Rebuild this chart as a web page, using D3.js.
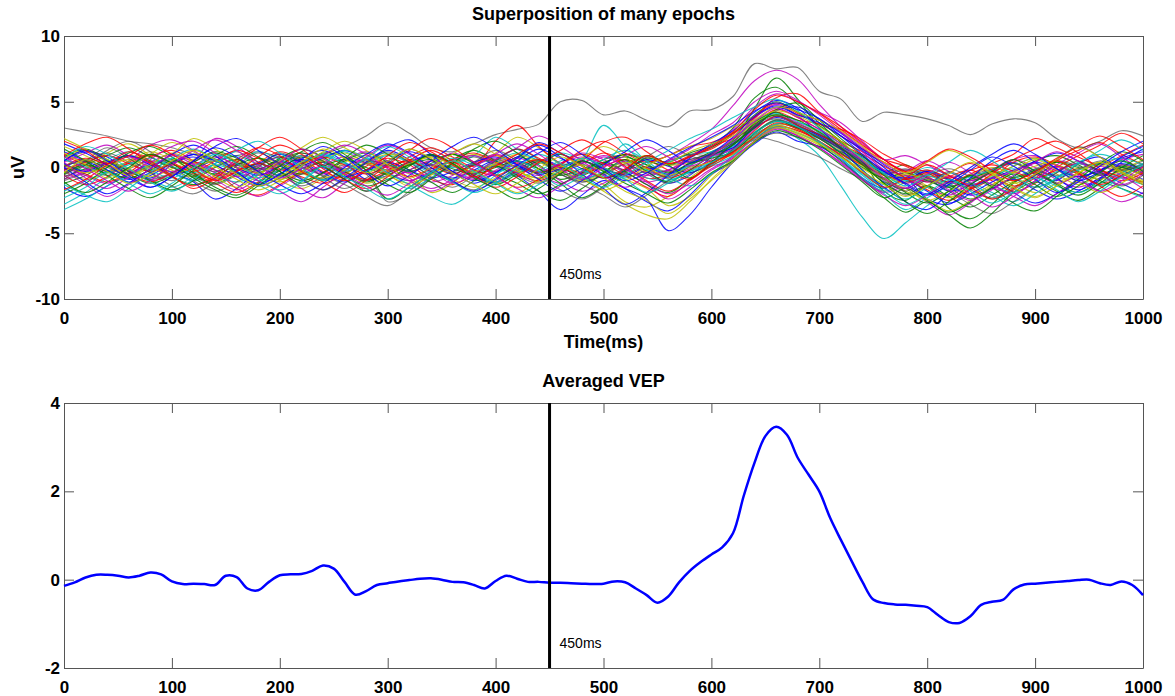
<!DOCTYPE html>
<html lang="en">
<head>
    <meta charset="UTF-8">
    <title>Superposition of many epochs / Averaged VEP</title>
    <script src="https://d3js.org/d3.v7.min.js"></script>
    <style>
        body {
            margin: 0;
            background-color: #ffffff;
            font-family: "Liberation Sans", Arial, Helvetica, sans-serif;
        }
        .tick text { font-weight: bold; font-size: 17px; fill: #000; }
        .title { font-weight: bold; font-size: 18px; }
    </style>
</head>
<body>
<div id="chart"></div>
<script>
    // time axis of the epochs (ms), one sample every 20 ms
    const epochTime = d3.range(0, 1001, 20);

    // single epochs (uV)
    const ep01 = [0.5,1.2,0.8,-0.3,-0.8,0.2,1.0,0.6,-0.4,-1.2,-0.5,0.7,1.3,0.4,-0.9,-0.6,0.3,0.9,0.2,-0.7,-1.1,-0.2,0.6,0.1,-0.8,-0.4,0.5,-0.3,-1.2,-0.6,0.8,1.9,3.8,4.6,3.9,2.6,1.5,0.2,-1.1,-1.6,-0.9,-1.8,-1.3,-0.2,0.4,-0.5,-1.0,0.3,0.8,-0.2,-0.9];
    const ep02 = [-1.2,-0.6,0.3,0.9,0.4,-0.7,-1.3,-0.8,0.2,-0.4,0.6,1.1,0.5,-0.6,-1.4,-0.9,-0.2,0.5,1.0,0.4,-0.3,0.8,0.2,-0.9,-0.3,0.6,0.9,-0.1,-0.7,0.4,1.2,2.1,4.5,6.8,5.2,3.0,1.6,0.9,-0.3,0.2,-0.8,-1.5,-2.4,-1.6,-0.7,0.5,0.9,0.2,-0.6,0.1,-0.4];
    const ep03 = [0.2,-0.5,-1.1,-0.4,0.8,1.3,0.5,-0.6,-0.2,0.4,1.2,0.6,-0.3,-0.8,0.1,0.7,0.2,-0.9,-1.3,-0.5,0.6,1.4,0.7,-0.2,0.3,1.1,0.4,-0.8,-0.5,0.9,1.6,2.2,3.1,4.2,3.6,3.3,2.4,1.4,0.6,0.1,-0.7,-0.4,0.3,-0.6,-1.4,-0.8,0.5,1.3,1.9,1.0,0.2];
    const ep04 = [-2.8,-1.9,-0.8,-0.2,-0.9,-1.5,-0.7,0.3,0.9,0.2,-0.6,-0.1,0.8,1.2,0.3,-0.5,-1.0,-0.4,0.5,0.9,0.1,-0.7,-0.2,0.5,1.0,0.2,1.8,0.4,-0.9,-0.4,0.1,0.6,2.0,3.0,2.2,0.9,-1.4,-3.8,-5.4,-4.2,-2.9,-1.8,-1.2,-1.9,-2.6,-1.5,-0.4,0.3,-0.2,-0.8,-1.3];
    const ep05 = [1.0,0.4,-0.3,0.5,1.7,2.1,1.3,0.2,-0.5,0.1,0.8,0.3,-0.4,0.6,1.2,0.5,-0.8,-1.6,-0.9,0.2,0.7,0.0,-0.6,0.3,1.1,0.6,-0.2,0.4,0.9,1.8,2.9,4.7,6.6,7.4,6.7,4.8,3.1,1.8,0.6,-0.2,0.5,-0.3,-1.0,-0.4,0.6,0.9,0.1,-0.7,-0.2,0.6,1.0];
    const ep06 = [-0.4,0.3,1.1,1.8,0.9,-0.2,-0.7,0.1,0.6,-0.3,-1.0,-1.6,-0.8,0.4,0.9,0.2,-0.5,-1.9,-1.2,0.3,1.1,2.3,1.5,0.2,-0.6,-1.3,-2.6,-3.0,-2.2,-0.8,0.3,1.2,2.4,3.1,2.5,1.7,0.8,-0.3,-1.2,-0.6,-1.4,-2.2,-1.7,-0.9,-1.6,-2.3,-1.4,-0.5,0.4,-0.3,-1.1];
    const ep07 = [3.0,2.7,2.4,2.0,1.8,1.5,1.0,0.6,0.9,1.2,0.8,0.5,1.0,1.6,2.4,3.4,2.6,1.5,1.2,1.8,2.5,2.9,3.3,5.0,5.1,4.0,4.3,3.6,3.1,4.3,4.4,5.4,7.9,7.5,7.6,5.8,5.2,3.5,4.2,4.0,3.7,3.2,2.5,3.3,3.7,3.4,2.2,1.5,2.0,2.8,2.4];
    const ep08 = [-1.5,-2.2,-1.4,-0.5,0.2,-0.4,-1.1,-2.4,-1.6,-0.3,0.5,-0.2,-0.9,-0.4,0.4,1.3,0.6,-0.3,-0.8,-0.2,0.5,-0.6,-1.8,-3.2,-2.1,-1.0,-1.6,-2.4,-4.8,-3.6,-1.5,0.4,1.8,2.7,2.0,1.6,0.6,-0.8,-1.6,-0.9,-2.4,-2.8,-1.7,-0.8,-1.9,-2.7,-2.0,-0.9,-0.2,0.7,1.2];
    const ep09 = [0.8,1.4,0.6,-0.5,-1.2,-0.6,0.4,1.2,0.7,-0.3,-0.7,0.2,1.1,0.8,-0.2,-2.4,-1.5,-0.4,0.6,1.3,0.5,-0.4,0.3,1.0,0.2,-0.8,-0.3,0.7,0.4,1.1,1.7,3.0,5.3,6.1,4.8,3.4,1.9,0.5,-1.8,-2.5,-1.4,-3.1,-3.9,-2.8,-1.2,-0.4,-1.2,-1.9,-1.0,0.2,-0.5];
    const ep10 = [-0.6,-1.3,-0.7,0.4,1.0,0.3,-0.5,-1.2,-1.9,-1.1,0.2,0.9,0.4,-0.5,-1.0,-0.3,0.8,1.5,0.8,0.1,2.0,3.2,1.6,0.3,-0.4,0.3,1.0,0.6,-0.2,-0.9,0.3,1.3,3.2,4.4,3.8,2.9,2.0,1.2,0.4,-0.3,-1.1,-0.7,-0.2,-1.0,-1.8,-1.2,0.0,0.9,1.7,2.6,1.8];
    const ep11 = [0.3,-0.2,0.6,1.2,0.5,-0.4,-1.0,-0.4,0.4,1.2,0.6,-0.3,-0.9,-0.2,0.6,1.1,0.4,-0.5,0.2,0.9,2.3,1.4,0.5,-0.2,0.6,3.2,1.6,0.2,-0.6,0.2,0.8,1.4,3.4,4.0,3.2,2.4,1.3,-0.2,-1.5,-0.8,-0.2,-0.9,-1.5,-0.8,0.1,0.7,-0.1,-0.9,-1.4,-0.7,0.1];
    const ep12 = [-0.9,-0.3,0.4,-0.2,-1.0,-0.5,0.5,2.2,1.6,0.4,-0.3,-1.6,-2.3,-1.2,-0.2,0.5,-0.4,-1.1,-0.6,0.3,1.0,0.4,-0.5,-1.2,-0.5,0.3,-0.4,-1.1,-0.7,-0.1,0.6,1.8,3.7,4.8,4.0,3.6,2.7,1.5,0.3,-0.6,-1.5,-2.1,-1.2,-0.2,0.6,0.0,-0.9,-1.5,-0.8,0.2,-0.4];
    const ep13 = [1.6,0.9,0.1,-0.6,0.0,1.0,2.2,1.4,0.3,-0.5,-1.1,-0.4,0.6,1.1,0.3,-0.6,-1.2,-0.5,0.3,1.0,0.4,-0.3,-0.8,-0.1,0.7,0.0,-0.9,-1.6,-2.9,-2.2,-0.6,0.7,2.6,3.6,2.9,2.2,1.1,0.2,-0.6,-1.2,-0.5,-1.2,-2.0,-1.3,-0.4,0.3,-0.5,-1.3,-0.6,-0.2,-1.0];
    const ep14 = [-0.2,0.5,1.1,0.4,-0.4,-1.0,-0.3,0.7,1.2,0.4,-0.5,-1.4,-0.7,0.2,-0.5,-2.6,-2.0,-0.8,0.1,-0.6,-1.2,-0.3,0.4,-0.5,-1.1,-0.6,0.3,0.8,0.2,0.6,1.1,1.8,2.3,2.0,1.4,0.8,-0.1,-0.9,-1.8,-1.1,-0.4,-1.0,-1.7,-2.3,-1.5,-0.6,0.1,-0.5,-1.2,-0.4,0.3];
    const ep15 = [0.0,0.6,-0.2,-1.1,-0.6,0.3,0.8,0.2,-0.7,-1.4,-0.8,0.1,0.7,1.3,0.6,-0.2,0.4,1.0,0.3,-0.4,0.2,0.8,1.9,1.1,0.3,-0.5,-1.6,-2.6,-3.3,-2.1,-0.5,0.4,2.0,3.3,3.0,2.5,1.6,0.8,-0.2,-0.9,-0.3,-1.3,-2.1,-1.6,-0.9,-1.7,-2.4,-1.8,-0.8,0.0,-0.6];
    const ep16 = [-0.7,-0.1,0.5,-0.3,-1.0,-1.7,-1.0,0.0,0.6,-0.1,0.7,1.4,0.8,-0.3,-1.1,-0.4,0.2,0.9,0.3,-0.6,-1.3,-0.5,0.5,0.0,-0.6,0.3,1.0,0.5,0.2,0.8,1.5,2.6,4.0,5.0,4.2,3.2,2.0,0.4,-1.2,-2.0,-1.4,-2.2,-3.0,-2.1,-1.1,-0.3,0.4,-0.3,-1.0,-1.6,-2.2];
    const ep17 = [0.9,0.2,-0.4,0.3,0.9,0.4,-0.3,0.5,1.3,0.7,-0.1,-0.7,-1.2,-0.5,0.3,0.0,-0.7,-0.1,0.6,1.1,0.4,-0.5,-1.0,-0.3,0.5,1.9,2.3,1.2,0.3,0.9,1.4,2.5,3.9,4.9,4.1,3.3,2.9,2.1,1.0,0.2,-0.4,-1.1,-0.5,0.3,1.0,2.2,1.5,0.8,0.2,0.9,1.7];
    const ep18 = [-1.8,-1.0,-0.3,0.4,-0.2,-0.8,0.1,0.6,-0.3,-1.0,-0.5,0.3,1.0,0.4,-0.4,-0.9,-1.6,-0.8,0.0,-0.5,-1.1,-0.4,0.3,1.1,0.6,-0.2,-0.8,-0.2,0.4,1.0,1.2,2.0,3.5,4.1,3.5,2.6,0.8,-0.8,-2.0,-3.2,-2.3,-1.4,-0.7,-1.3,-1.9,-1.1,-0.3,0.4,1.0,0.5,-0.2];
    const ep19 = [0.4,1.1,1.7,0.9,0.0,-0.5,0.2,0.8,0.2,-0.5,-0.2,0.6,0.2,-0.4,-1.8,-1.0,-0.2,0.5,-0.3,-0.8,-0.2,0.7,0.1,-1.0,-1.8,-1.2,-0.5,-1.3,-2.4,-1.5,-0.2,0.7,2.0,3.0,2.4,1.5,0.3,-1.0,-1.9,-1.5,-2.6,-3.6,-2.7,-1.6,-2.2,-2.9,-2.0,-1.1,-1.8,-2.6,-1.9];
    const ep20 = [-0.3,-0.9,-0.4,0.5,1.2,0.6,-0.2,-0.8,-0.1,0.7,0.3,-0.4,-1.0,-0.5,0.4,1.0,0.6,-0.2,-0.9,-1.5,-0.8,0.1,0.6,-0.2,-0.9,-1.8,-2.8,-3.6,-3.9,-2.6,-0.9,0.6,2.4,3.3,3.0,2.3,1.3,0.1,-0.9,-1.6,-2.5,-1.8,-1.0,-0.4,-1.1,-1.9,-1.2,-0.4,0.2,-0.5,-1.2];
    const ep21 = [0.6,0.0,-0.6,-0.1,0.5,0.0,-0.7,-1.3,-0.6,0.2,0.8,0.1,-0.6,-1.3,-2.2,-2.9,-1.8,-0.5,0.3,0.8,0.2,-0.6,-1.2,-0.4,0.4,0.0,-0.7,-0.2,0.5,1.0,0.9,1.5,2.1,2.6,2.3,1.6,1.2,0.4,-0.4,-0.1,-0.7,-1.4,-0.9,-0.2,-0.8,-1.5,-0.9,-0.2,0.5,0.0,-0.5];
    const ep22 = [1.2,0.5,-0.2,-0.9,-0.4,0.4,1.0,0.5,-0.2,0.3,1.0,0.4,-0.4,-1.1,-0.3,0.5,1.2,0.6,-0.3,-1.0,-0.4,0.5,1.4,0.7,-0.1,-0.8,-0.2,0.6,0.1,-0.4,0.4,1.7,3.1,4.3,4.6,3.7,2.6,1.4,0.2,-0.8,-1.8,-2.7,-2.0,-1.1,-0.3,0.4,1.1,0.5,-0.3,-1.2,-2.0];
    const ep23 = [-0.5,0.2,0.9,1.5,0.8,0.0,-0.6,-1.2,-0.5,0.3,-0.3,-1.0,-0.4,0.5,1.1,0.4,-0.3,0.3,1.0,0.3,-0.5,-1.2,-2.0,-1.3,-0.4,0.4,-0.3,-1.3,-1.9,-0.9,0.2,1.4,3.4,4.2,3.2,1.8,0.5,-0.9,-2.3,-3.4,-2.6,-3.6,-4.6,-3.5,-1.9,-1.1,-1.8,-2.5,-1.6,-0.6,0.1];
    const ep24 = [0.1,0.7,0.2,-0.5,-1.1,-0.4,0.4,-0.2,-1.6,-2.1,-1.3,-0.3,0.4,-0.3,-0.9,-0.2,0.6,0.2,-0.5,0.2,0.9,0.3,-0.4,0.3,1.3,2.0,1.1,0.4,0.9,1.6,1.9,2.6,3.8,5.3,5.6,4.2,3.1,1.9,0.6,-0.4,-0.2,-0.8,-1.6,-0.8,0.4,0.8,0.2,-0.5,-1.3,-0.6,0.0];
    const ep25 = [-3.2,-2.4,-1.4,-0.6,0.2,0.7,0.1,-0.6,-1.1,-0.5,0.3,0.9,0.4,-0.3,0.3,0.9,0.4,-0.4,-0.9,-0.3,0.5,1.1,0.5,-0.3,-0.9,-0.3,0.4,-0.2,-0.8,0.2,0.9,1.6,2.7,3.6,3.1,2.3,1.1,-0.4,-1.3,-0.7,0.0,-0.6,-1.3,-0.7,-0.1,-0.7,-1.4,-1.9,-1.2,-0.4,0.3];
    const ep26 = [0.0,-0.6,-1.2,-0.5,0.4,1.0,0.4,-0.4,-1.3,-2.2,-1.4,-0.5,0.2,0.8,0.3,-0.4,-1.0,-0.3,0.5,0.9,0.3,-0.4,-1.1,-0.5,0.3,0.9,0.4,-0.4,-0.2,0.8,1.6,2.9,4.6,5.6,5.0,4.2,3.4,2.0,0.6,0.9,0.2,-0.6,-1.0,-0.3,0.3,-0.4,-1.2,-0.6,0.1,-0.6,-1.6];
    const ep27 = [0.7,1.3,0.6,-0.1,-0.7,-0.1,0.6,1.1,0.5,-0.3,-0.9,-0.3,0.5,-0.2,-1.2,-0.6,0.2,0.8,0.3,-0.4,0.3,1.0,0.4,-0.3,-1.0,-0.4,0.3,0.9,0.2,0.4,1.1,2.0,3.4,4.0,3.3,2.7,1.8,0.7,-0.2,-0.8,-1.5,-2.3,-1.5,-0.6,0.1,0.7,0.2,-0.4,-0.9,-0.2,0.6];
    const ep28 = [-1.0,-0.4,0.3,-0.3,-0.9,-0.4,0.4,1.1,0.4,-0.2,0.4,1.1,0.5,-0.3,-1.0,-0.4,0.4,-0.3,-1.1,-1.7,-1.0,-0.1,0.5,-0.3,-1.1,-0.5,0.2,-0.5,-1.2,-0.5,0.3,1.2,2.5,3.2,2.8,2.2,1.6,0.5,-0.5,-1.1,-0.6,-0.1,-0.7,-1.4,-0.8,-0.1,0.5,0.1,-0.6,-0.2,0.5];
    const ep29 = [0.3,-0.3,0.4,0.9,0.2,-0.5,-0.1,0.5,0.0,-0.6,0.1,0.6,0.0,-0.7,-0.2,0.4,-0.2,-0.8,-0.3,0.4,0.8,0.2,-0.5,-0.1,0.5,-0.1,-0.6,0.0,-0.5,0.3,1.0,1.5,3.0,3.8,3.2,2.4,1.4,0.5,-0.3,-0.8,-0.3,-0.9,-1.4,-0.8,-0.2,0.4,-0.1,-0.7,-0.2,0.3,-0.2];
    const ep30 = [-0.4,0.2,-0.3,-0.8,-0.2,0.5,0.1,-0.5,0.2,0.7,0.1,-0.5,0.1,0.6,0.0,-0.5,0.2,0.6,-0.1,-0.5,0.0,0.5,-0.1,-0.6,-0.1,0.4,0.8,0.2,-0.4,0.3,0.7,1.2,2.6,3.5,3.0,2.2,1.1,0.0,-0.8,-0.4,-1.0,-1.5,-0.9,-0.3,-0.8,-0.2,0.4,0.0,-0.5,0.0,-0.6];
    const ep31 = [-0.2,0.4,0.9,0.3,-0.3,0.2,-0.4,-0.9,-0.3,0.3,-0.2,0.3,0.8,0.2,-0.5,0.1,0.5,-0.1,0.4,-0.2,-0.6,0.1,0.6,0.0,-0.5,0.1,0.6,0.0,-0.8,-0.2,0.5,1.0,2.2,3.1,2.8,2.0,1.0,0.2,-0.6,-0.9,-0.4,-0.8,-0.2,0.2,-0.3,-0.8,-0.2,0.3,-0.2,-0.7,-1.1];
    const ep32 = [0.6,0.1,-0.4,0.2,0.7,0.1,-0.4,0.2,-0.3,-0.8,-0.2,0.4,0.9,0.3,-0.3,0.2,-0.3,0.2,0.7,0.2,-0.4,0.2,-0.3,0.3,-0.2,-0.7,-0.2,-0.8,-1.0,-0.3,0.2,0.9,2.4,3.3,3.4,2.8,1.6,0.5,-0.4,-1.0,-0.6,-1.2,-0.7,-0.2,0.3,-0.2,-0.7,-0.2,0.3,0.7,0.2];
    const ep33 = [-0.7,-0.2,0.3,0.8,0.3,-0.3,0.3,-0.2,-0.7,-0.2,0.4,0.0,-0.5,0.1,0.6,0.1,-0.4,0.2,-0.4,-0.9,-0.3,0.2,-0.3,0.3,0.8,0.3,-0.2,-0.6,-0.2,0.5,0.9,1.4,2.9,3.9,3.4,2.5,1.5,0.6,-0.2,-0.6,-1.1,-0.7,-1.3,-0.8,-0.3,0.3,-0.2,0.3,-0.3,-0.8,-0.3];
    const ep34 = [0.2,-0.4,0.1,0.6,0.0,-0.5,0.0,0.5,0.0,-0.4,0.2,-0.3,-0.8,-0.2,0.3,-0.2,0.3,0.8,0.2,-0.3,0.2,-0.3,-0.8,-0.3,0.2,-0.2,0.4,-0.1,-0.6,0.0,0.4,1.0,2.3,3.2,2.7,1.9,0.8,-0.1,-0.9,-0.5,-0.9,-1.2,-0.6,0.0,-0.4,0.1,0.5,-0.1,0.4,-0.1,-0.5];
    const ep35 = [0.1,0.5,0.0,-0.5,0.1,0.6,0.1,-0.3,0.3,0.0,-0.6,-0.1,0.4,-0.1,0.5,0.2,-0.3,0.2,-0.3,0.2,0.6,0.0,-0.4,0.1,0.5,-0.1,-0.5,0.1,-0.3,0.6,1.0,1.7,3.1,3.7,3.1,2.2,1.2,0.3,-0.5,-0.2,-0.8,-1.1,-0.6,-0.1,0.3,-0.2,-0.6,-0.1,0.3,-0.2,0.2];
    const ep36 = [1.8,1.1,0.2,-0.8,-1.5,-0.7,0.5,1.6,2.2,1.3,0.2,-0.9,-1.7,-0.8,0.4,1.5,2.1,1.0,-0.3,-1.2,-0.4,0.7,1.7,0.8,-0.5,-1.6,-2.8,-1.9,-0.6,0.7,1.8,2.8,4.2,5.1,4.5,3.0,1.4,-0.2,-1.5,-2.6,-3.2,-2.0,-0.8,0.5,1.3,0.4,-0.8,-1.7,-0.9,0.4,1.4];
    const ep37 = [-2.0,-1.2,0.0,1.1,1.6,0.8,-0.4,-1.5,-2.1,-1.2,0.1,1.2,1.9,1.0,-0.2,-1.3,-1.9,-0.9,0.3,1.4,2.0,1.1,-0.1,-1.2,-2.3,-1.4,-0.2,0.9,0.2,-0.8,0.4,1.8,3.0,4.4,4.9,3.6,2.2,0.9,-0.6,-1.9,-2.7,-1.8,-0.6,-1.5,-2.7,-3.3,-2.2,-0.9,0.3,1.2,0.5];
    const ep38 = [0.9,1.8,2.3,1.4,0.3,-0.7,-1.4,-0.6,0.6,1.5,0.9,-0.3,-1.1,-1.9,-1.0,0.2,1.3,2.2,1.5,0.4,-0.6,-1.5,-0.9,0.2,1.0,0.3,-0.6,-1.5,-2.2,-1.0,0.3,1.2,2.8,3.9,3.2,2.5,1.7,1.0,0.1,-0.8,-1.7,-2.5,-1.6,-0.5,0.6,1.4,2.0,1.1,-0.1,-1.0,-0.4];
    const ep39 = [-1.3,-2.1,-2.6,-1.6,-0.4,0.7,1.4,0.6,-0.5,-1.3,-2.0,-1.1,0.2,1.3,0.7,-0.4,-1.3,-2.2,-2.8,-1.8,-0.6,0.5,-0.3,-1.4,-0.6,0.6,1.3,0.5,-0.7,-1.4,-0.5,0.9,2.2,3.1,2.6,1.9,0.9,-0.5,-1.6,-2.4,-1.5,-0.4,-1.2,-2.1,-2.9,-2.0,-0.8,0.3,-0.5,-1.6,-2.3];
    const ep40 = [0.4,-0.8,-1.6,-0.7,0.6,1.6,2.0,1.1,0.0,-1.0,-1.8,-2.6,-1.5,-0.3,0.8,1.7,1.0,-0.2,-1.2,-0.5,0.6,1.5,2.4,1.6,0.5,-0.6,-1.5,-0.6,0.5,1.4,2.5,3.4,5.0,5.8,5.1,4.0,2.7,1.2,-0.2,-1.2,-0.5,0.4,-0.4,-1.3,-2.0,-1.0,0.2,1.1,1.8,0.8,-0.3];
    const ep41 = [2.2,1.4,0.4,-0.6,0.2,1.1,0.4,-0.7,-1.5,-0.6,0.5,1.5,2.3,1.5,0.6,-0.5,-1.4,-0.6,0.5,-0.3,-1.1,-1.9,-1.0,0.1,-0.7,-1.7,-1.0,0.1,0.9,1.6,2.2,3.1,3.6,4.3,3.9,3.1,2.0,0.6,-0.8,-1.8,-2.4,-3.3,-2.5,-1.4,-0.3,0.6,-0.2,-1.1,-1.9,-1.2,-0.1];
    const ep42 = [-0.9,0.2,1.3,2.0,1.2,0.1,-1.0,-1.8,-1.1,0.0,1.1,0.4,-0.7,-1.6,-0.8,0.3,1.4,0.6,-0.5,0.4,1.3,0.5,-0.6,-1.7,-2.4,-1.5,-0.4,0.8,1.6,0.9,0.5,1.3,2.6,3.6,3.0,2.3,1.4,0.3,-1.0,-2.1,-1.4,-0.3,-1.2,-2.4,-1.7,-0.6,0.6,1.6,0.8,-0.4,-1.3];
    const ep43 = [0.0,-1.1,-2.0,-1.2,-0.1,1.0,1.7,0.9,-0.3,-1.3,-0.5,0.6,1.6,0.8,-0.4,-1.4,-0.6,0.5,1.6,2.3,1.4,0.2,-0.9,-1.8,-1.0,0.2,1.2,2.1,1.3,0.4,1.1,2.3,3.9,4.7,4.0,3.4,2.4,1.3,0.0,-1.3,-2.1,-1.3,-0.2,0.8,0.1,-0.9,-1.9,-1.1,0.1,1.2,2.0];
    const ep44 = [1.4,0.5,-0.6,-1.6,-2.3,-1.4,-0.2,0.9,1.6,0.8,-0.3,-1.2,-0.4,0.7,1.7,1.0,-0.2,-1.1,-1.9,-1.0,0.1,-0.8,-1.8,-2.5,-1.6,-0.4,0.6,-0.3,-1.1,-0.2,0.9,1.7,3.3,4.0,3.6,2.7,1.5,0.2,-1.2,-2.6,-3.5,-2.6,-1.3,-0.3,0.6,-0.3,-1.3,-2.1,-1.2,0.0,0.9];
    const ep45 = [-1.7,-0.9,0.2,1.2,0.5,-0.6,-1.6,-0.8,0.4,1.5,2.3,1.4,0.2,-0.9,-1.6,-0.7,0.5,1.3,0.5,-0.6,-1.5,-0.7,0.4,1.3,2.1,1.2,0.1,-1.0,-1.8,-0.9,0.1,1.1,2.3,3.4,2.9,2.0,0.9,-0.4,-1.5,-0.8,0.2,-0.6,-1.5,-2.4,-1.6,-0.5,0.5,-0.4,-1.4,-2.2,-1.4];
    const ep46 = [0.7,1.6,1.0,-0.1,-1.1,-1.8,-0.9,0.3,1.3,2.0,1.1,0.0,-1.0,-0.3,0.7,1.6,0.8,-0.2,-1.1,-1.9,-1.2,0.0,1.0,0.3,-0.7,-1.5,-0.6,0.4,1.3,2.2,2.9,3.8,4.6,5.2,4.3,3.0,1.8,0.7,-0.5,-1.4,-0.6,0.4,1.3,0.5,-0.6,-1.5,-0.8,0.3,1.3,2.1,1.3];
    const ep47 = [-0.2,-1.3,-2.2,-1.3,-0.1,0.9,0.2,-0.9,-1.7,-0.8,0.4,1.4,0.7,-0.5,-1.4,-2.1,-1.2,0.0,1.1,0.4,-0.7,-1.6,-2.3,-1.4,-0.3,0.8,0.0,-1.1,-2.0,-1.2,-0.1,0.8,2.0,2.9,2.4,1.5,0.4,-0.9,-2.1,-2.9,-2.1,-1.1,-2.0,-3.0,-2.2,-1.0,0.1,-0.8,-1.8,-1.0,0.1];
    const ep48 = [1.1,0.2,-0.8,-0.1,1.0,1.9,1.2,0.1,-0.9,-1.7,-1.0,0.1,1.2,2.0,1.3,0.2,-0.8,0.0,1.0,1.8,1.0,-0.1,-1.1,-0.4,0.7,1.6,0.8,-0.3,0.3,1.2,1.8,2.4,3.6,4.6,4.2,3.6,2.8,1.6,0.4,-0.4,0.4,1.3,0.6,-0.4,-1.2,-0.5,0.6,1.5,0.8,-0.3,-1.1];
    const ep49 = [-0.6,0.5,1.5,0.7,-0.4,-1.4,-2.0,-1.1,0.1,1.1,0.3,-0.8,-1.7,-0.9,0.3,1.2,0.4,-0.7,-1.5,-0.6,0.5,1.4,0.6,-0.5,-1.3,-2.1,-3.0,-2.1,-1.0,0.1,1.0,2.0,3.2,3.9,3.3,2.5,1.5,0.4,-0.9,-1.8,-1.0,-1.8,-2.8,-3.5,-2.6,-1.5,-0.4,0.5,-0.4,-1.4,-0.6];
    const ep50 = [0.5,1.3,0.5,-0.6,-1.5,-0.7,0.5,1.5,0.8,-0.3,-1.3,-2.0,-1.2,0.0,1.0,1.8,1.1,0.0,-1.0,-1.8,-0.9,0.2,1.1,1.9,1.0,-0.1,-1.0,-0.4,0.6,1.5,2.3,3.2,4.3,4.9,4.4,3.7,2.4,1.0,-0.3,-1.2,-2.0,-1.1,0.0,1.0,1.8,1.0,-0.1,-1.0,-0.3,0.8,1.6];
    const ep51 = [-1.1,-1.9,-1.1,0.0,1.0,0.3,-0.8,-1.7,-2.3,-1.4,-0.2,0.8,0.1,-0.9,-1.8,-1.0,0.1,1.0,0.3,-0.8,-1.6,-2.4,-1.6,-0.5,0.5,-0.3,-1.2,-2.0,-2.7,-1.7,-0.4,0.5,1.9,2.8,2.3,1.4,0.2,-1.1,-2.3,-1.6,-2.5,-3.4,-2.6,-1.5,-0.5,-1.3,-2.2,-1.4,-0.4,0.5,-0.3];
    const ep52 = [2.0,1.3,0.3,0.9,1.7,1.0,-0.1,-1.0,-0.3,0.8,1.7,1.0,-0.1,-1.0,-0.2,0.9,1.9,1.2,0.2,-0.7,0.1,1.0,1.8,1.1,0.1,-0.8,-0.1,0.9,0.3,0.8,1.6,2.7,4.4,5.5,5.0,4.1,2.9,1.7,0.6,-0.3,0.5,1.4,0.8,-0.2,-1.0,-0.3,0.7,1.6,2.4,1.6,0.6];
    const ep53 = [-2.3,-1.5,-0.4,-1.2,-2.0,-1.2,0.0,1.0,0.3,-0.8,-1.7,-1.0,0.1,-0.7,-1.6,-2.4,-1.5,-0.4,0.5,-0.3,-1.2,-2.0,-1.3,-0.2,0.7,0.0,-0.9,-1.9,-1.2,-0.3,0.4,1.3,2.6,3.5,3.1,2.0,0.7,-0.6,-1.8,-2.8,-2.0,-0.9,-1.8,-2.7,-1.9,-0.8,-1.7,-2.6,-1.8,-0.7,0.2];
    const ep54 = [0.8,-0.1,-1.0,-1.8,-1.0,0.2,1.3,2.1,1.3,0.2,-0.8,-0.1,0.9,1.7,1.0,-0.1,-1.0,-1.8,-1.1,0.0,1.0,1.8,1.0,-0.1,-0.9,0.0,0.9,1.6,0.8,0.1,0.9,2.2,3.5,4.5,3.8,2.9,1.8,0.5,-0.8,-1.6,-0.8,-1.7,-2.5,-1.7,-0.6,0.4,1.2,0.5,-0.5,-1.3,-0.5];
    const ep55 = [-0.4,0.6,-0.3,-1.2,-0.5,0.5,1.3,0.6,-0.5,-1.4,-0.7,0.4,1.4,0.7,-0.4,0.5,1.4,0.7,-0.4,-1.3,-2.0,-1.2,-0.1,0.8,0.1,-0.8,-1.8,-2.5,-3.5,-2.4,-1.0,0.4,2.0,3.0,2.6,1.8,0.8,-0.3,-1.3,-2.2,-1.4,-0.5,0.4,-0.5,-1.5,-2.2,-1.4,-0.4,0.4,-0.4,-1.3];

    const epochs = [ep01, ep02, ep03, ep04, ep05, ep06, ep07, ep08, ep09, ep10, ep11,
                    ep12, ep13, ep14, ep15, ep16, ep17, ep18, ep19, ep20, ep21, ep22,
                    ep23, ep24, ep25, ep26, ep27, ep28, ep29, ep30, ep31, ep32, ep33,
                    ep34, ep35, ep36, ep37, ep38, ep39, ep40, ep41, ep42, ep43, ep44,
                    ep45, ep46, ep47, ep48, ep49, ep50, ep51, ep52, ep53, ep54, ep55];

    // averaged VEP, one sample every 10 ms
    const vepTime = d3.range(0, 1001, 10);
    const vepValues = [-0.14,-0.06,0.05,0.11,0.11,0.09,0.05,0.09,0.16,0.12,
                       -0.04,-0.1,-0.09,-0.1,-0.12,0.09,0.06,-0.2,-0.24,-0.05,
                       0.1,0.12,0.13,0.2,0.32,0.25,-0.05,-0.34,-0.26,-0.12,
                       -0.08,-0.04,-0.01,0.02,0.03,0.0,-0.05,-0.06,-0.12,-0.2,
                       -0.03,0.09,0.02,-0.05,-0.05,-0.07,-0.07,-0.08,-0.09,-0.1,
                       -0.09,-0.04,-0.06,-0.2,-0.35,-0.52,-0.38,-0.06,0.2,0.4,
                       0.57,0.73,1.05,1.9,2.65,3.25,3.46,3.28,2.76,2.38,
                       2.0,1.4,0.9,0.42,-0.05,-0.45,-0.53,-0.56,-0.57,-0.59,
                       -0.62,-0.8,-0.96,-0.98,-0.83,-0.57,-0.5,-0.46,-0.22,-0.11,
                       -0.09,-0.07,-0.05,-0.03,-0.01,0.0,-0.08,-0.12,-0.04,-0.12,-0.35];

    const xTicks = [0, 100, 200, 300, 400, 500, 600, 700, 800, 900, 1000];
    const yTicksTop = [-10, -5, 0, 5, 10];
    const yTicksBottom = [-2, 0, 2, 4];
    const markerTime = 450;

    // MATLAB default line colour order
    const lineColors = ["#0000ff", "#008000", "#ff0000", "#00bfbf", "#bf00bf", "#bfbf00", "#404040"];

    const W = 1175, H = 696;
    const svg = d3.select('#chart').append('svg')
        .attr('width', W)
        .attr('height', H);

    const left = 64, right = 1143;
    const x = d3.scaleLinear().domain([0, 1000]).range([left, right]);
    const plain = d => String(d);   // "-10" with a normal hyphen, "1000" without comma

    // draws one boxed panel (MATLAB style: ticks inside on all sides)
    function panel(top, bottom, yDomain, yTicks, title) {
        const y = d3.scaleLinear().domain(yDomain).range([bottom, top]);
        const g = svg.append('g');

        g.append('g')
            .attr('transform', `translate(0,${bottom})`)
            .call(d3.axisBottom(x).tickValues(xTicks).tickFormat(plain)
                .tickSizeInner(-10).tickSizeOuter(0).tickPadding(13));
        g.append('g')
            .attr('transform', `translate(0,${top})`)
            .call(d3.axisTop(x).tickValues(xTicks).tickSizeInner(-10).tickSizeOuter(0).tickFormat(''));
        g.append('g')
            .attr('transform', `translate(${left},0)`)
            .call(d3.axisLeft(y).tickValues(yTicks).tickFormat(plain)
                .tickSizeInner(-10).tickSizeOuter(0).tickPadding(4));
        g.append('g')
            .attr('transform', `translate(${right},0)`)
            .call(d3.axisRight(y).tickValues(yTicks).tickSizeInner(-10).tickSizeOuter(0).tickFormat(''));

        g.selectAll('.domain, .tick line').attr('stroke', '#555').attr('stroke-width', 1);
        g.selectAll('.tick text').attr('font-family', null).attr('font-size', null);

        svg.append('text')
            .attr('class', 'title')
            .attr('x', (left + right) / 2)
            .attr('y', top - 16)
            .attr('text-anchor', 'middle')
            .text(title);

        return { y, g };
    }

    // ---- top panel: superposition of epochs ----
    const topPanel = panel(36, 299, [-10, 10], yTicksTop, 'Superposition of many epochs');
    const yTop = topPanel.y;

    svg.append('clipPath').attr('id', 'clipTop')
        .append('rect').attr('x', left).attr('y', 36).attr('width', right - left).attr('height', 263);

    const epochLine = d3.line()
        .x((d, i) => x(epochTime[i]))
        .y(d => yTop(d))
        .curve(d3.curveCatmullRom.alpha(0.5));

    svg.append('g')
        .attr('clip-path', 'url(#clipTop)')
        .selectAll('path')
        .data(epochs)
        .enter()
        .append('path')
        .attr('d', epochLine)
        .attr('fill', 'none')
        .attr('stroke', (d, i) => lineColors[i % lineColors.length])
        .attr('stroke-opacity', (d, i) => i % 7 === 6 ? 0.65 : 0.85)
        .attr('stroke-width', 1.1);

    svg.append('line')
        .attr('x1', x(markerTime)).attr('x2', x(markerTime))
        .attr('y1', 36).attr('y2', 299)
        .attr('stroke', '#000').attr('stroke-width', 3);

    svg.append('text')
        .attr('x', x(markerTime) + 10)
        .attr('y', 279)
        .attr('font-size', 14)
        .text('450ms');

    svg.append('text')
        .attr('class', 'title')
        .attr('x', (left + right) / 2)
        .attr('y', 348)
        .attr('text-anchor', 'middle')
        .text('Time(ms)');

    svg.append('text')
        .attr('class', 'title')
        .attr('transform', `translate(24,${yTop(0)}) rotate(-90)`)
        .attr('text-anchor', 'middle')
        .text('uV');

    // ---- bottom panel: averaged VEP ----
    const bottomPanel = panel(403, 668, [-2, 4], yTicksBottom, 'Averaged VEP');
    const yBot = bottomPanel.y;

    const vepLine = d3.line()
        .x((d, i) => x(vepTime[i]))
        .y(d => yBot(d))
        .curve(d3.curveCatmullRom.alpha(0.5));

    svg.append('path')
        .datum(vepValues)
        .attr('d', vepLine)
        .attr('fill', 'none')
        .attr('stroke', '#0000ff')
        .attr('stroke-width', 2.5);

    svg.append('line')
        .attr('x1', x(markerTime)).attr('x2', x(markerTime))
        .attr('y1', 403).attr('y2', 668)
        .attr('stroke', '#000').attr('stroke-width', 3);

    svg.append('text')
        .attr('x', x(markerTime) + 10)
        .attr('y', 648)
        .attr('font-size', 14)
        .text('450ms');
</script>
</body>
</html>
